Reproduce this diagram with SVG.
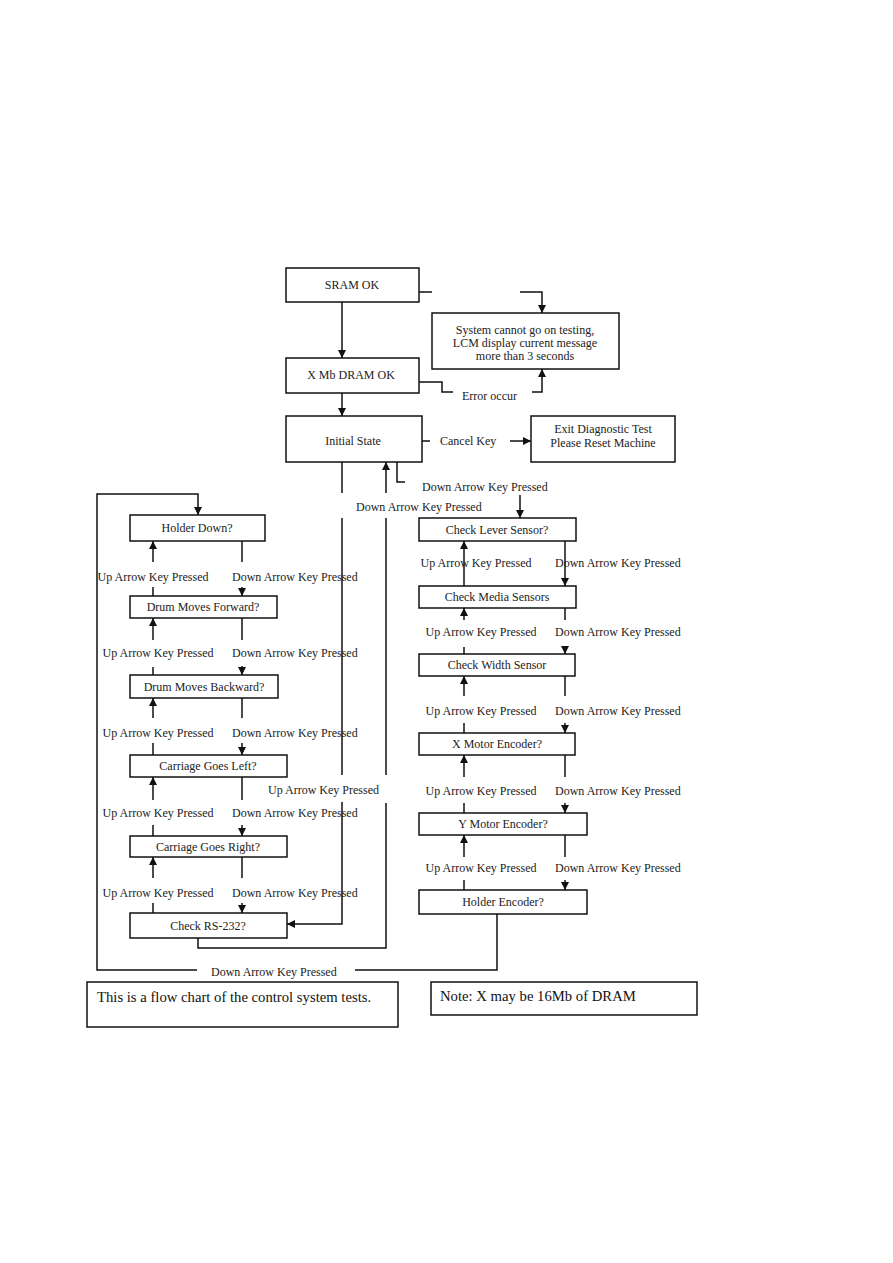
<svg xmlns="http://www.w3.org/2000/svg" width="893" height="1263" viewBox="0 0 893 1263">
<defs>
<marker id="arr" markerUnits="userSpaceOnUse" markerWidth="8" markerHeight="8" refX="8" refY="4" orient="auto">
<path d="M0,0 L8,4 L0,8 z" fill="#111"/>
</marker>
<style>
.box{fill:#fff;stroke:#111;stroke-width:1.5}
.t{font-family:"Liberation Serif","Times New Roman",serif;font-size:12px;fill:#222;text-anchor:middle}
.l{font-family:"Liberation Serif","Times New Roman",serif;font-size:12px;fill:#222}
.big{font-family:"Liberation Serif","Times New Roman",serif;font-size:14.7px;fill:#111}
.c{fill:none;stroke:#111;stroke-width:1.5}
.a{marker-end:url(#arr)}
</style>
</defs>
<rect width="893" height="1263" fill="#fff"/>

<g id="connectors">
<path class="c" d="M419,292 H432"/>
<path class="c a" d="M520,292 H542 V313"/>
<path class="c a" d="M342,302 V358"/>
<path class="c" d="M419,382 H442 V392 H453"/>
<path class="c a" d="M532,392 H542 V369"/>
<path class="c a" d="M342,393 V416"/>
<path class="c" d="M422,441 H430"/>
<path class="c a" d="M510,441 H531"/>
<path class="c" d="M397,462 V482 H405"/>
<path class="c a" d="M520,495 V518"/>
<path class="c" d="M342,462 V493"/>
<path class="c" d="M342,518 V775"/>
<path class="c a" d="M342,802 V924 H287"/>
<path class="c" d="M198,938 V948 H386 V803"/>
<path class="c" d="M386,775 V518"/>
<path class="c a" d="M386,493 V462"/>
<path class="c" d="M497,914 V970 H355"/>
<path class="c a" d="M197,970 H97 V494 H198 V515"/>

<path class="c a" d="M153,562 V541"/><path class="c" d="M153,596 V587"/>
<path class="c" d="M242,541 V562"/><path class="c a" d="M242,587 V596"/>
<path class="c a" d="M153,640 V618"/><path class="c" d="M153,675 V667"/>
<path class="c" d="M242,618 V640"/><path class="c a" d="M242,666 V675"/>
<path class="c a" d="M153,718 V698"/><path class="c" d="M153,755 V743"/>
<path class="c" d="M242,698 V718"/><path class="c a" d="M242,743 V755"/>
<path class="c a" d="M153,800 V777"/><path class="c" d="M153,836 V825"/>
<path class="c" d="M242,777 V800"/><path class="c a" d="M242,825 V836"/>
<path class="c a" d="M153,878 V857"/><path class="c" d="M153,913 V903"/>
<path class="c" d="M242,857 V878"/><path class="c a" d="M242,903 V913"/>

<path class="c a" d="M464,586 V541"/>
<path class="c a" d="M565,541 V586"/>
<path class="c a" d="M464,620 V608"/><path class="c" d="M464,654 V647"/>
<path class="c" d="M565,608 V620"/><path class="c a" d="M565,646 V654"/>
<path class="c a" d="M464,696 V676"/><path class="c" d="M464,733 V723"/>
<path class="c" d="M565,676 V696"/><path class="c a" d="M565,723 V733"/>
<path class="c a" d="M464,777 V755"/><path class="c" d="M464,813 V803"/>
<path class="c" d="M565,755 V777"/><path class="c a" d="M565,803 V813"/>
<path class="c a" d="M464,857 V835"/><path class="c" d="M464,890 V880"/>
<path class="c" d="M565,835 V857"/><path class="c a" d="M565,880 V890"/>

<text class="l" x="462" y="400">Error occur</text>
<text class="l" x="440" y="445">Cancel Key</text>
<text class="l" x="422" y="491">Down Arrow Key Pressed</text>
<text class="l" x="356" y="511">Down Arrow Key Pressed</text>
<text class="l" x="268" y="794">Up Arrow Key Pressed</text>
<text class="l" x="211" y="976">Down Arrow Key Pressed</text>

<text class="t" x="153" y="581">Up Arrow Key Pressed</text>
<text class="l" x="232" y="581">Down Arrow Key Pressed</text>
<text class="t" x="158" y="657">Up Arrow Key Pressed</text>
<text class="l" x="232" y="657">Down Arrow Key Pressed</text>
<text class="t" x="158" y="737">Up Arrow Key Pressed</text>
<text class="l" x="232" y="737">Down Arrow Key Pressed</text>
<text class="t" x="158" y="817">Up Arrow Key Pressed</text>
<text class="l" x="232" y="817">Down Arrow Key Pressed</text>
<text class="t" x="158" y="897">Up Arrow Key Pressed</text>
<text class="l" x="232" y="897">Down Arrow Key Pressed</text>

<text class="t" x="476" y="567">Up Arrow Key Pressed</text>
<text class="l" x="555" y="567">Down Arrow Key Pressed</text>
<text class="t" x="481" y="636">Up Arrow Key Pressed</text>
<text class="l" x="555" y="636">Down Arrow Key Pressed</text>
<text class="t" x="481" y="715">Up Arrow Key Pressed</text>
<text class="l" x="555" y="715">Down Arrow Key Pressed</text>
<text class="t" x="481" y="795">Up Arrow Key Pressed</text>
<text class="l" x="555" y="795">Down Arrow Key Pressed</text>
<text class="t" x="481" y="872">Up Arrow Key Pressed</text>
<text class="l" x="555" y="872">Down Arrow Key Pressed</text>
</g>

<g id="sram"><rect class="box" x="286" y="268" width="133" height="34"/><text class="t" x="352" y="289">SRAM OK</text></g>
<g id="system"><rect class="box" x="432" y="313" width="187" height="56"/>
<text class="t" x="525" y="334">System cannot go on testing,</text>
<text class="t" x="525" y="347">LCM display current message</text>
<text class="t" x="525" y="360">more than 3 seconds</text></g>
<g id="xdram"><rect class="box" x="286" y="358" width="133" height="35"/><text class="t" x="351" y="379">X Mb DRAM OK</text></g>
<g id="initial"><rect class="box" x="286" y="416" width="136" height="46"/><text class="t" x="353" y="445">Initial State</text></g>
<g id="exit"><rect class="box" x="531" y="416" width="144" height="46"/>
<text class="t" x="603" y="433">Exit Diagnostic Test</text>
<text class="t" x="603" y="447">Please Reset Machine</text></g>

<g id="holderdown"><rect class="box" x="130" y="515" width="135" height="26"/><text class="t" x="197" y="532">Holder Down?</text></g>
<g id="drumfwd"><rect class="box" x="130" y="596" width="147" height="22"/><text class="t" x="203" y="611">Drum Moves Forward?</text></g>
<g id="drumback"><rect class="box" x="130" y="675" width="148" height="23"/><text class="t" x="204" y="691">Drum Moves Backward?</text></g>
<g id="carleft"><rect class="box" x="130" y="755" width="157" height="22"/><text class="t" x="208" y="770">Carriage Goes Left?</text></g>
<g id="carright"><rect class="box" x="130" y="836" width="157" height="21"/><text class="t" x="208" y="851">Carriage Goes Right?</text></g>
<g id="rs232"><rect class="box" x="130" y="913" width="157" height="25"/><text class="t" x="208" y="930">Check RS-232?</text></g>

<g id="lever"><rect class="box" x="419" y="518" width="157" height="23"/><text class="t" x="497" y="534">Check Lever Sensor?</text></g>
<g id="media"><rect class="box" x="419" y="586" width="157" height="22"/><text class="t" x="497" y="601">Check Media Sensors</text></g>
<g id="width"><rect class="box" x="419" y="654" width="156" height="22"/><text class="t" x="497" y="669">Check Width Sensor</text></g>
<g id="xmotor"><rect class="box" x="419" y="733" width="156" height="22"/><text class="t" x="497" y="748">X Motor Encoder?</text></g>
<g id="ymotor"><rect class="box" x="419" y="813" width="168" height="22"/><text class="t" x="503" y="828">Y Motor Encoder?</text></g>
<g id="holderenc"><rect class="box" x="419" y="890" width="168" height="24"/><text class="t" x="503" y="906">Holder Encoder?</text></g>

<g id="note1"><rect class="box" x="87" y="982" width="311" height="45"/><text class="big" x="97" y="1002">This is a flow chart of the control system tests.</text></g>
<g id="note2"><rect class="box" x="431" y="982" width="266" height="33"/><text class="big" x="440" y="1001">Note: X may be 16Mb of DRAM</text></g>
</svg>
